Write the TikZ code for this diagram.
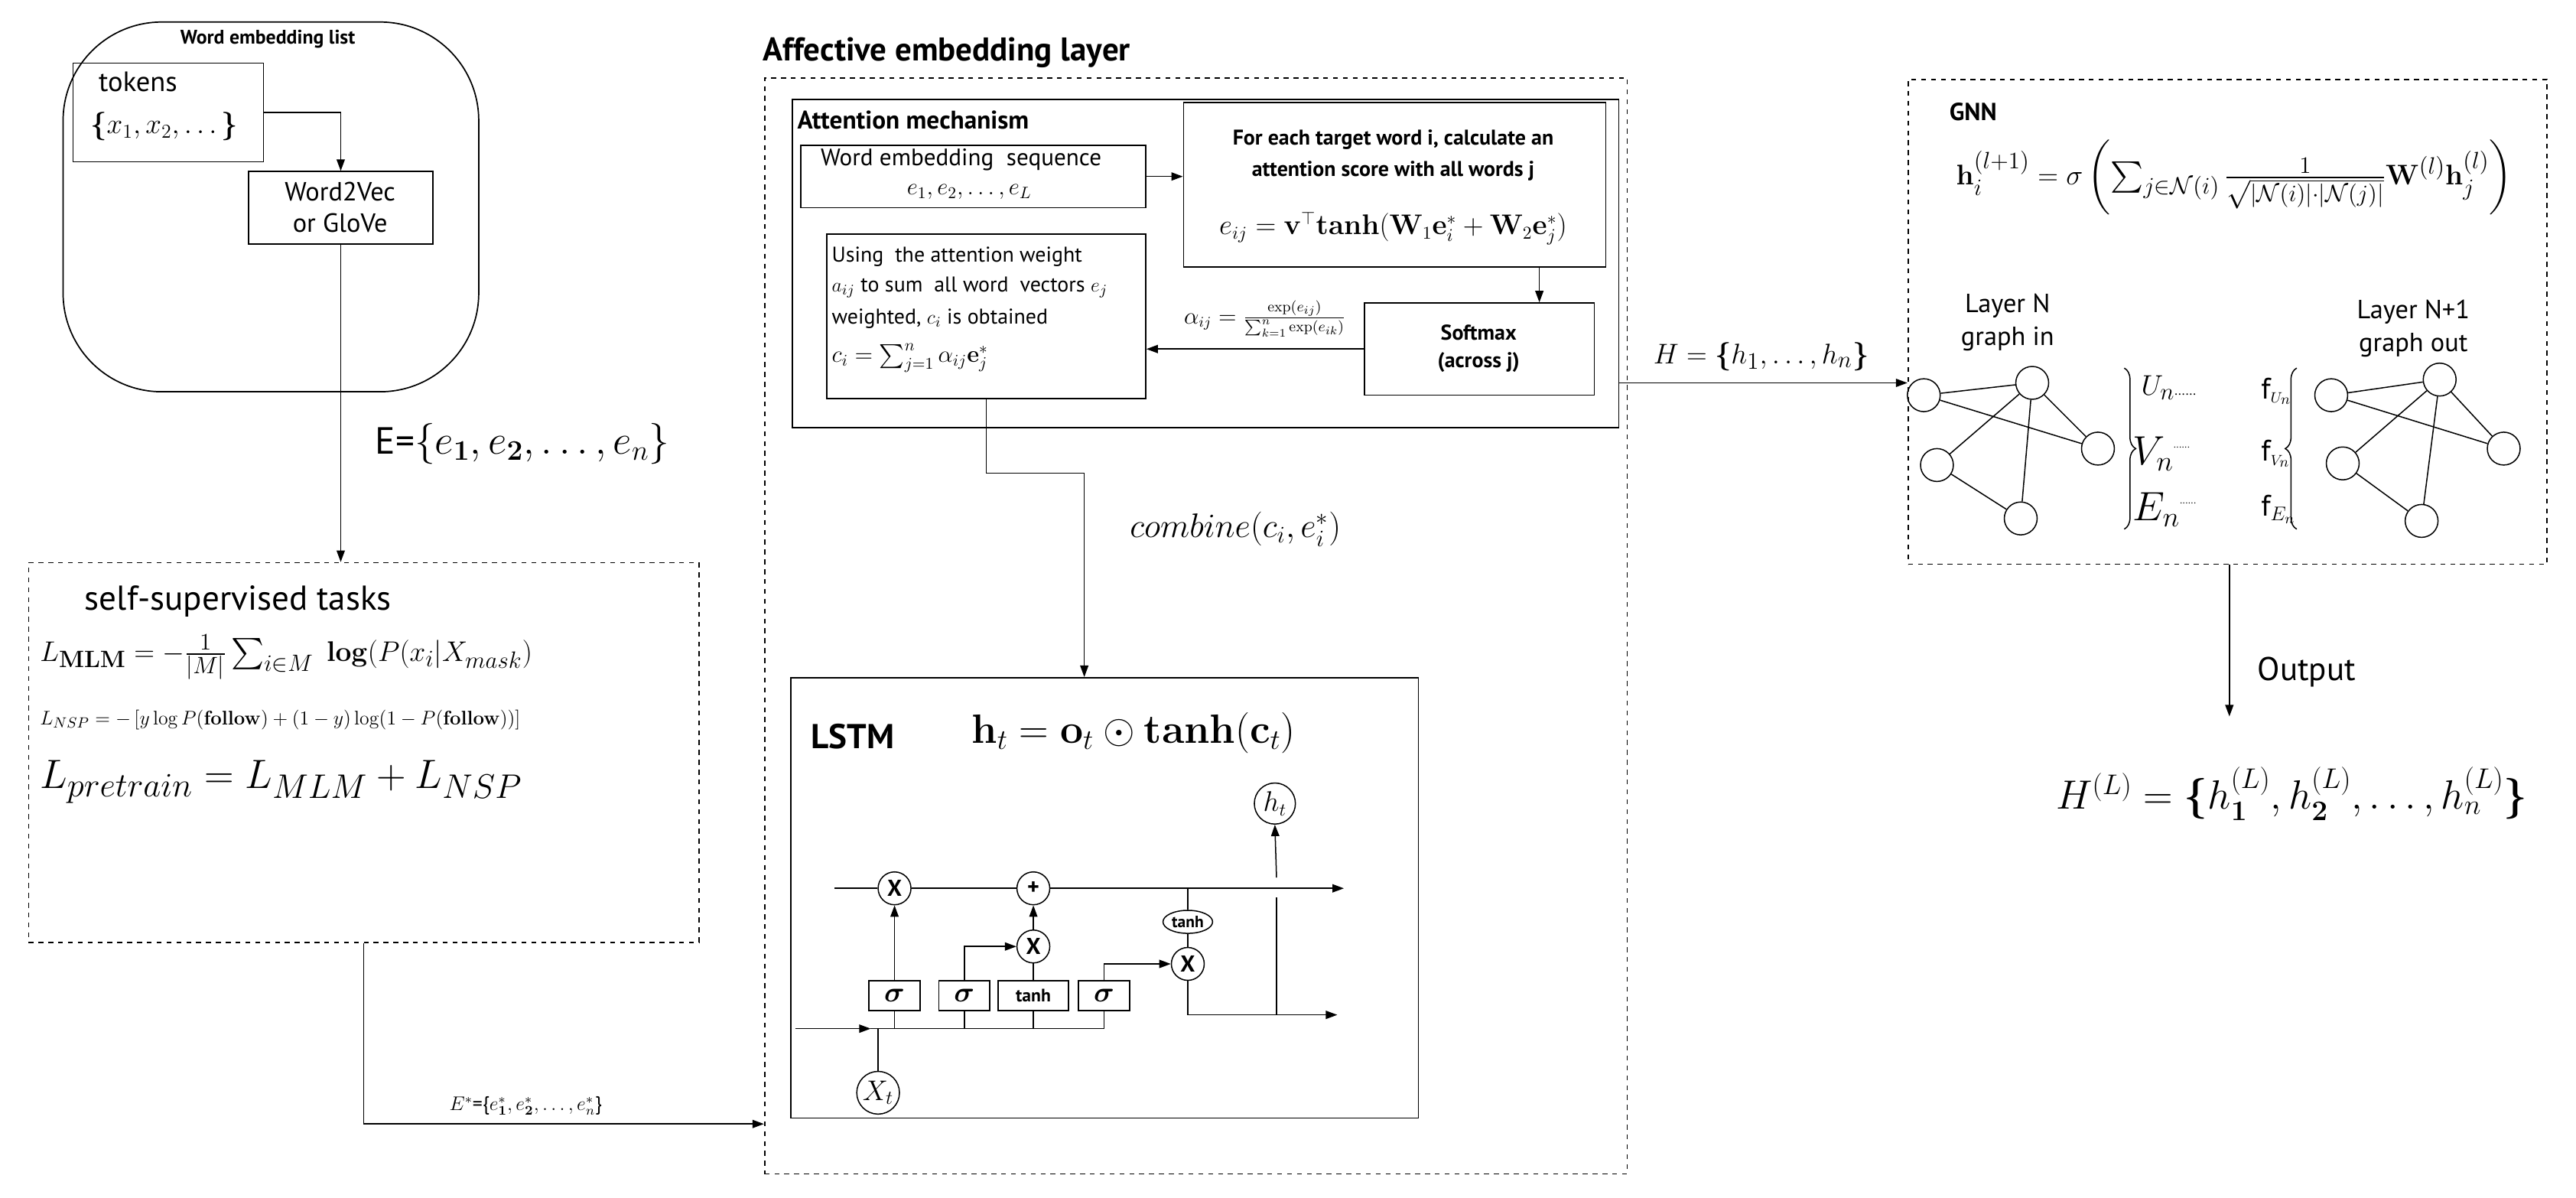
\documentclass[tikz,border=0pt]{standalone}
\usepackage{amsmath,amssymb}
\usepackage[no-math]{fontspec}
\setmainfont{PT Sans}
\usetikzlibrary{arrows.meta,decorations.pathreplacing,shapes.geometric}
\newcommand\fsz[1]{\fontsize{#1}{#1}\selectfont}
\begin{document}
\begin{tikzpicture}[x=1pt,y=-1pt,line width=0.7pt,
  >={Triangle[length=7pt,width=5pt]},
  box/.style={draw,line width=0.8pt,inner sep=0pt,anchor=north west},
  dbox/.style={draw,dashed,line width=0.8pt,inner sep=0pt,anchor=north west},
  txt/.style={inner sep=0pt},
  op/.style={draw,circle,inner sep=0pt,minimum size=20pt,font=\fsz{14}\bfseries},
  gate/.style={draw,line width=0.8pt,inner sep=0pt,minimum width=31pt,minimum height=18pt},
  gn/.style={draw,circle,inner sep=0pt,minimum size=20pt}]
\useasboundingbox (0,0) rectangle (1568,729);
\fill[white] (0,0) rectangle (1568,729);

% ---------- Word embedding list
\node[box,rounded corners=60pt,minimum width=253pt,minimum height=225pt] (wel) at (38,13) {};
\node[txt,font=\fsz{12}\bfseries] (welt) at (163,24) {Word embedding list};
\node[box,minimum width=116pt,minimum height=60pt] (tok) at (44,38) {};
\node[txt,font=\fsz{17}] (tokt) at (84,50) {tokens};
\node[txt,font=\fsz{18}] (tokx) at (100,77) {$\boldsymbol\{x_1,x_2,\ldots\boldsymbol\}$};
\node[box,minimum width=112pt,minimum height=44pt] (w2v) at (151,104) {};
\node[txt,font=\fsz{16},align=center] (w2vt) at (207,126) {Word2Vec\\[3pt]or GloVe};
\draw[->] (tok.east) -| (w2v.north);

% ---------- self-supervised
\node[dbox,minimum width=408pt,minimum height=231pt] (ssl) at (17,342) {};
\draw[->] (w2v.south) -- (w2v.south |- ssl.north);
\node[txt,font=\fsz{23}] (elab) at (318,270) {E=$\{e_{\mathbf 1},e_{\mathbf 2},\ldots,e_n\}$};
\node[txt,font=\fsz{21}] (sslt) at (145,366) {self-supervised tasks};
\node[txt,anchor=west,font=\fsz{19}] (mlm) at (24,400) {$L_{\mathbf{MLM}}=-\frac{1}{|M|}\sum_{i\in M}\ \mathbf{log}(P(x_i|X_{mask})$};
\node[txt,anchor=west,font=\fsz{12.5}] (nsp) at (24,438) {$L_{NSP}=-\left[y\log P(\mathbf{follow})+(1-y)\log(1-P(\mathbf{follow}))\right]$};
\node[txt,anchor=west,font=\fsz{28}] (pre) at (24,476) {$L_{pretrain}=L_{MLM}+L_{NSP}$};
\coordinate (ein) at (465,684);
\draw[->] (ssl.south) |- (ein);
\node[txt,font=\fsz{12}] (estar) at (320,673) {$E^*$=\{$e^*_{\mathbf 1},e^*_{\mathbf 2},\ldots,e^*_n$\}};

% ---------- Affective embedding layer
\node[txt,anchor=west,font=\fsz{20}\bfseries] (afft) at (464,32) {Affective embedding layer};
\node[dbox,minimum width=525pt,minimum height=667pt] (aff) at (465,47) {};
\node[box,minimum width=503pt,minimum height=200pt] (att) at (482,60) {};
\node[txt,anchor=west,font=\fsz{15.5}\bfseries] (attt) at (485,73) {Attention mechanism};
\node[box,minimum width=210pt,minimum height=38pt] (seq) at (487,88) {};
\node[txt,font=\fsz{14.5}] (seqt) at (585,97) {Word embedding\ \ sequence};
\node[txt,font=\fsz{14}] (seqe) at (590,117) {$e_1,e_2,\ldots,e_L$};
\node[box,minimum width=257pt,minimum height=100pt] (fe) at (720,62) {};
\draw[->] (seq.east) -- (seq.east -| fe.west);
\node[txt,font=\fsz{13}\bfseries] (fe1) at (848,85) {For each target word i, calculate an};
\node[txt,font=\fsz{13}\bfseries] (fe2) at (848,104) {attention score with all words j};
\node[txt,font=\fsz{16}] (fe3) at (848,139) {$e_{ij}=\mathbf{v}^\top\mathbf{tanh}(\mathbf{W}_1\mathbf{e}_i^*+\mathbf{W}_2\mathbf{e}_j^*)$};
\node[box,minimum width=140pt,minimum height=56pt] (sm) at (830,184) {};
\node[txt,font=\fsz{13}\bfseries,align=center] (smt) at (900,212) {Softmax\\[4pt](across j)};
\coordinate (smx) at (937,0);
\draw[->] (fe.south -| smx) -- (sm.north -| smx);
\node[txt,font=\fsz{13.5}] (alpha) at (770,194) {$\alpha_{ij}=\frac{\exp(e_{ij})}{\sum_{k=1}^n\exp(e_{ik})}$};
\node[box,minimum width=194pt,minimum height=100pt] (us) at (503,142) {};
\draw[->] (sm.west) -- (sm.west -| us.east);
\node[txt,anchor=west,font=\fsz{13}] (us1) at (506,156) {Using\ \ the attention weight};
\node[txt,anchor=west,font=\fsz{13}] (us2) at (506,175) {$a_{ij}$ to sum\ \ all word\ \ vectors\ $e_j$};
\node[txt,anchor=west,font=\fsz{13}] (us3) at (506,194) {weighted, $c_i$ is obtained};
\node[txt,anchor=west,font=\fsz{14.5}] (us4) at (506,218) {$c_i=\sum_{j=1}^n\alpha_{ij}\mathbf{e}_j^*$};

% ---------- LSTM
\node[box,minimum width=382pt,minimum height=268pt] (lstm) at (481,412) {};
\coordinate (cmid) at (660,288);
\draw[->] (us.south) |- (cmid) -- (cmid |- lstm.north);
\node[txt,font=\fsz{22}] (comb) at (752,322) {$combine(c_i,e_i^*)$};
\node[txt,font=\fsz{21}\bfseries] (lstmt) at (519,448) {LSTM};
\node[txt,font=\fsz{23}] (lstmf) at (690,446) {$\mathbf{h}_t=\mathbf{o}_t\odot\mathbf{tanh}(\mathbf{c}_t)$};

\node[op] (x1) at (544.5,540.6) {X};
\node[op] (pl) at (629,540.6) {+};
\node[op] (x2) at (629,576) {X};
\node[op] (x3) at (723,586.6) {X};
\node[draw,ellipse,inner sep=1pt,minimum width=30pt,minimum height=14pt,font=\fsz{10}\bfseries] (th) at (723,561) {tanh};
\node[draw,circle,inner sep=0pt,minimum size=25pt,font=\fsz{16}] (ht) at (776,489) {$h_t$};
\node[draw,circle,inner sep=0pt,minimum size=26pt,font=\fsz{17}] (xt) at (534.5,665) {$X_t$};
\node[gate,font=\fsz{17}\bfseries] (s1) at (544.5,606) {$\boldsymbol\sigma$};
\node[gate,font=\fsz{17}\bfseries] (s2) at (587,606) {$\boldsymbol\sigma$};
\node[gate,minimum width=43pt,font=\fsz{11}\bfseries] (tg) at (629,606) {tanh};
\node[gate,font=\fsz{17}\bfseries] (s4) at (672,606) {$\boldsymbol\sigma$};

\coordinate (cl) at (508,540.6);
\coordinate (cr) at (818,540.6);
\draw (cl) -- (x1) -- (pl);
\draw[->] (pl) -- (cr);
\coordinate (bl) at (484,626);
\coordinate (ba) at (530,626);
\draw[->] (bl) -- (ba);
\draw (ba) -- (s4.south |- ba) -- (s4.south);
\draw (s1.south) -- (s1.south |- ba);
\draw (s2.south) -- (s2.south |- ba);
\draw (tg.south) -- (tg.south |- ba);
\draw (xt.north) -- (xt.north |- ba);
\draw[->] (s1.north) -- (x1.south);
\draw[->] (s2.north) |- (x2.west);
\draw (tg.north) -- (x2.south);
\draw[->] (x2.north) -- (pl.south);
\draw[->] (s4.north) |- (x3.west);
\draw (th.north) -- (th.north |- cr);
\draw (th.south) -- (x3.north);
\coordinate (hr) at (814,617.6);
\draw[->] (x3.south) |- (hr);
\coordinate (hv) at (777,617.6);
\coordinate (hv2) at (777,546);
\coordinate (hv3) at (777,534);
\draw (hv) -- (hv2);
\draw[->] (hv3) -- (ht.south);

% ---------- GNN
\node[dbox,minimum width=389pt,minimum height=295pt] (gnn) at (1161,48) {};
\coordinate (ha) at (985,233);
\draw[->] (ha) -- (ha -| gnn.west);
\node[txt,font=\fsz{19}] (hlab) at (1072,217) {$H=\boldsymbol\{h_1,\ldots,h_n\boldsymbol\}$};
\node[txt,font=\fsz{15}\bfseries] (gnnt) at (1201,68) {GNN};
\node[txt,font=\fsz{19}] (gnnf) at (1360,108) {$\mathbf{h}_i^{(l+1)}=\sigma\left(\sum_{j\in\mathcal N(i)}\frac{1}{\sqrt{|\mathcal N(i)|\cdot|\mathcal N(j)|}}\mathbf{W}^{(l)}\mathbf{h}_j^{(l)}\right)$};
\node[txt,font=\fsz{16},align=center] (lin) at (1222,196) {Layer N\\[4pt]graph in};
\node[txt,font=\fsz{16},align=center] (lout) at (1469,200) {Layer N+1\\[4pt]graph out};
\foreach \n/\x/\y in {a/1171/240.5,b/1237/233,c/1277/273,d/1179/283,e/1230/315.5,
  A/1419/240.5,B/1485/231,C/1524/273,D/1426/282,E/1474/317}
  \node[gn] (\n) at (\x,\y) {};
\foreach \p/\q in {a/b,a/c,b/d,b/e,b/c,d/e,A/B,A/C,B/D,B/E,B/C,D/E}
  \draw (\p) -- (\q);
\draw[decorate,decoration={brace,amplitude=7pt}] (1293,224) -- (1293,322);
\draw[decorate,decoration={brace,amplitude=7pt,mirror}] (1398,224) -- (1398,322);
\node[txt,anchor=west,font=\fsz{19}] (un) at (1303,236) {$U_n$\fsz{8}......};
\node[txt,anchor=west,font=\fsz{24}] (vn) at (1298,276) {$V_n$\fsz{6}\raisebox{10pt}{......}};
\node[txt,anchor=west,font=\fsz{24}] (en) at (1298,310) {$E_n$\fsz{6}\raisebox{10pt}{......}};
\node[txt,anchor=west,font=\fsz{18}] (fu) at (1376,238) {f$_{\scriptscriptstyle U_n}$};
\node[txt,anchor=west,font=\fsz{18}] (fv) at (1376,276) {f$_{\scriptscriptstyle V_n}$};
\node[txt,anchor=west,font=\fsz{18}] (fe4) at (1376,310) {f$_{E_n}$};

% ---------- Output
\coordinate (oend) at (1357,436);
\draw[->] (oend |- gnn.south) -- (oend);
\node[txt,font=\fsz{20}] (outl) at (1404,409) {Output};
\node[txt,font=\fsz{27}] (hl) at (1395,483) {$H^{(L)}=\boldsymbol\{h_{\mathbf 1}^{(L)},h_{\mathbf 2}^{(L)},\ldots,h_n^{(L)}\boldsymbol\}$};
\end{tikzpicture}
\end{document}
